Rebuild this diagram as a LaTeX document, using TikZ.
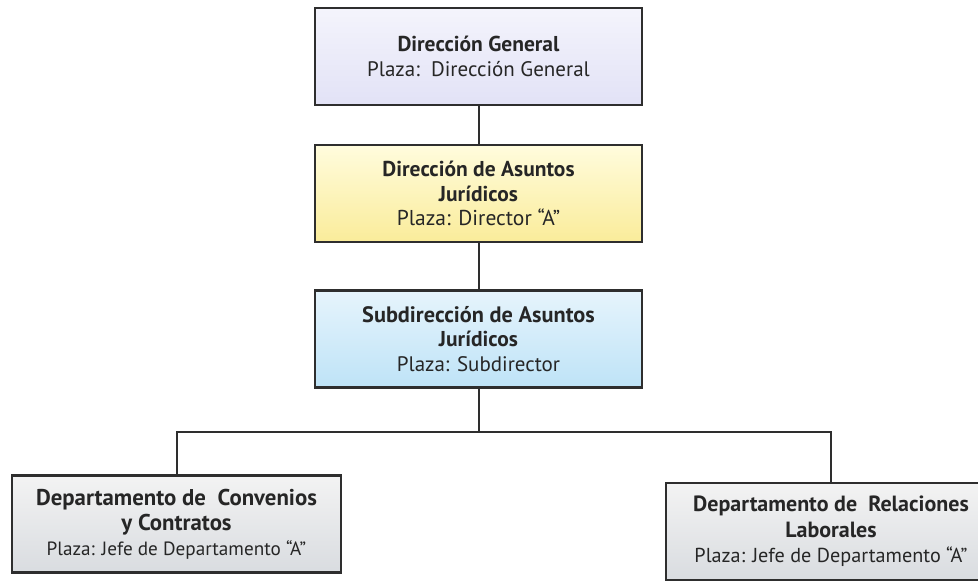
\documentclass[tikz,border=0pt]{standalone}
\usepackage{fontspec}
\setmainfont{PT Sans}
\usetikzlibrary{calc}

\definecolor{bordegris}{HTML}{2E2E2E}
\definecolor{lilaA}{HTML}{F4F4FC}
\definecolor{lilaB}{HTML}{E2E2F6}
\definecolor{amarA}{HTML}{FFFCDD}
\definecolor{amarB}{HTML}{FAEC9A}
\definecolor{azulA}{HTML}{E6F4FC}
\definecolor{azulB}{HTML}{BEE3F7}
\definecolor{grisA}{HTML}{F3F3F3}
\definecolor{grisB}{HTML}{D9DCE0}

\tikzset{
    caja/.style={draw=bordegris, line width=2.4pt, align=center, minimum height=97pt,
        font=\fontsize{21.5}{24.5}\selectfont, text=black!85, inner sep=0pt},
    linea/.style={draw=bordegris, line width=2pt}
}

\begin{document}
\begin{tikzpicture}[x=1pt, y=-1pt]
        \useasboundingbox (0,0) rectangle (978,581);

        \node[caja, minimum width=327pt, top color=lilaA, bottom color=lilaB] (dg) at (478.5,56.5)
            {\textbf{Dirección General}\\{\fontsize{21}{24.5}\selectfont Plaza:\ \ Dirección General}};
        \node[caja, minimum width=327pt, top color=amarA, bottom color=amarB] (daj) at (478.5,193.5)
            {\textbf{Dirección de Asuntos}\\\textbf{Jurídicos}\\Plaza: Director “A”};
        \node[caja, minimum width=327pt, top color=azulA, bottom color=azulB] (sdaj) at (478.5,339)
            {{\fontsize{22.3}{24.5}\selectfont\textbf{Subdirección de Asuntos}}\\\textbf{Jurídicos}\\{\fontsize{21}{24.5}\selectfont Plaza: Subdirector}};

        \node[caja, minimum width=329pt, top color=grisA, bottom color=grisB,
            font=\fontsize{22.8}{25}\selectfont] (dcc) at (176.5,524)
            {\textbf{Departamento de\ \ Convenios}\\\textbf{y Contratos}\\{\fontsize{19.2}{25}\selectfont Plaza: Jefe de Departamento “A”}};
        \node[caja, minimum width=330pt, top color=grisA, bottom color=grisB,
            font=\fontsize{22}{25.5}\selectfont] (drl) at (831,531.5)
            {\textbf{Departamento de\ \ Relaciones}\\\textbf{Laborales}\\{\fontsize{20.2}{25.5}\selectfont Plaza: Jefe de Departamento “A”}};

        \coordinate (bar) at (478.5,432);

        \draw[linea] (dg.south) -- (daj.north);
        \draw[linea] (daj.south) -- (sdaj.north);
        \draw[linea] (sdaj.south) -- (bar);
        \draw[linea] (dcc.north) |- (bar) -| (drl.north);
    \end{tikzpicture}
\end{document}
